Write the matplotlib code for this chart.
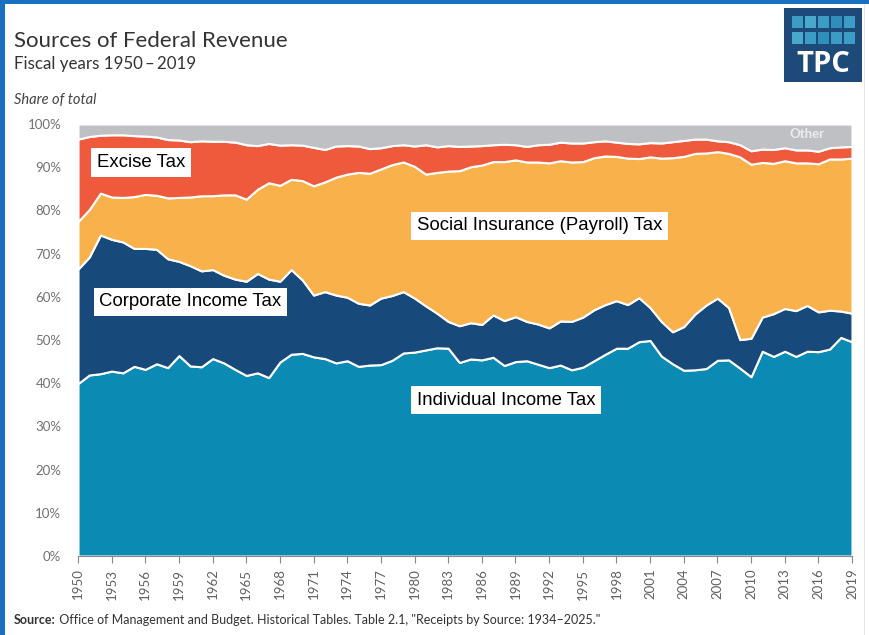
"""
Sources of Federal Revenue, fiscal years 1950-2019 (TPC chart)
"""
import numpy as np
import matplotlib
matplotlib.use('Agg')
import matplotlib.pyplot as plt
from matplotlib.patches import Rectangle

years = list(range(1950, 2020))

# share of total receipts, percent
individual = [39.9, 41.9, 42.2, 42.8, 42.4, 43.9, 43.2, 44.5, 43.6, 46.4,
              44.0, 43.8, 45.7, 44.7, 43.2, 41.8, 42.4, 41.3, 44.9, 46.7,
              46.9, 46.1, 45.7, 44.7, 45.2, 43.9, 44.2, 44.3, 45.3, 47.0,
              47.2, 47.7, 48.2, 48.1, 44.8, 45.6, 45.4, 46.0, 44.1, 45.0,
              45.2, 44.4, 43.6, 44.2, 43.1, 43.7, 45.2, 46.7, 48.1, 48.1,
              49.6, 49.9, 46.3, 44.5, 43.0, 43.1, 43.4, 45.3, 45.4, 43.5,
              41.5, 47.4, 46.2, 47.4, 46.2, 47.4, 47.3, 47.9, 50.6, 49.6]
corporate = [26.5, 27.3, 32.1, 30.5, 30.3, 27.3, 28.0, 26.5, 25.2, 21.8,
             23.2, 22.2, 20.6, 20.3, 20.9, 21.8, 23.0, 22.8, 18.7, 19.6,
             17.0, 14.3, 15.5, 15.7, 14.7, 14.6, 13.9, 15.4, 15.0, 14.2,
             12.5, 10.2, 8.0, 6.2, 8.5, 8.4, 8.2, 9.8, 10.4, 10.4,
             9.1, 9.3, 9.2, 10.2, 11.2, 11.6, 11.8, 11.5, 11.0, 10.1,
             10.2, 7.6, 8.0, 7.4, 10.1, 12.9, 14.7, 14.4, 12.1, 6.6,
             8.9, 7.9, 9.9, 9.9, 10.6, 10.6, 9.2, 9.0, 6.1, 6.6]
social = [11.0, 11.0, 9.7, 9.8, 10.3, 12.0, 12.5, 12.5, 14.1, 14.8,
          15.9, 17.4, 17.1, 18.6, 19.5, 19.0, 19.5, 22.3, 22.2, 20.9,
          23.0, 25.3, 25.4, 27.3, 28.5, 30.3, 30.5, 29.9, 30.3, 30.0,
          30.5, 30.5, 32.6, 34.8, 35.9, 36.1, 36.9, 35.5, 36.8, 36.3,
          36.9, 37.5, 38.2, 37.1, 36.9, 36.0, 35.2, 34.4, 33.4, 33.9,
          32.2, 34.9, 37.8, 40.3, 39.4, 37.2, 35.2, 33.9, 35.7, 42.3,
          40.3, 35.8, 34.8, 34.2, 34.2, 33.0, 34.3, 35.0, 35.2, 35.9]
excise = [19.1, 16.9, 13.4, 14.4, 14.5, 14.1, 13.5, 13.5, 13.5, 13.3,
          12.8, 12.7, 12.6, 12.4, 12.2, 12.6, 10.1, 9.1, 9.3, 8.0,
          8.2, 8.9, 7.5, 7.2, 6.6, 6.1, 5.7, 4.9, 4.4, 4.0,
          4.7, 6.8, 5.9, 5.9, 5.6, 4.8, 4.5, 3.9, 4.0, 3.5,
          3.6, 4.0, 4.3, 4.3, 4.4, 4.3, 3.7, 3.5, 3.3, 3.4,
          3.4, 3.3, 3.5, 3.7, 3.7, 3.3, 3.2, 2.5, 2.7, 2.8,
          3.1, 3.1, 3.2, 3.0, 3.0, 3.0, 2.9, 2.6, 2.8, 2.7]
other = list(100 - np.array(individual) - np.array(corporate)
             - np.array(social) - np.array(excise))

colors = ['#0b8bb4', '#17497b', '#f9b14b', '#ee5a3b', '#bfc0c4']
tick_years = years[::3]

fig = plt.figure(figsize=(8.69, 6.35), dpi=100)
ax = fig.add_axes([78/869, 1 - 556/635, 774/869, 432/635])

ax.stackplot(years, individual, corporate, social, excise, other,
             colors=colors, edgecolor='white', linewidth=1.5)

ax.set_xlim(1950, 2019)
ax.set_ylim(0, 100)
ax.set_yticks(range(0, 101, 10))
ax.set_yticklabels([f'{v}%' for v in range(0, 101, 10)], family='Lato')
ax.set_xticks(tick_years)
ax.set_xticklabels([str(y) for y in tick_years], rotation=90, family='Lato')
ax.tick_params(axis='y', length=0, pad=12, labelsize=9.5, labelcolor='#707070')
ax.tick_params(axis='x', length=5, width=0.8, color='#888888', pad=4,
               labelsize=9.5, labelcolor='#606060')
for s in ['left', 'right', 'top']:
    ax.spines[s].set_visible(False)
ax.spines['bottom'].set_color('#888888')

# series labels in white boxes
box = dict(facecolor='white', edgecolor='none', pad=4)
lab = dict(fontsize=13.4, family='Liberation Sans', color='black',
           va='center', ha='left', bbox=box)
ax.text(1951.7, 91.1, 'Excise Tax', **lab)
ax.text(1980.2, 76.4, 'Social Insurance (Payroll) Tax', **lab)
ax.text(1951.9, 58.8, 'Corporate Income Tax', **lab)
ax.text(1980.2, 36.1, 'Individual Income Tax', **lab)
ax.text(2015.0, 97.6, 'Other', fontsize=9.5, fontweight='bold', color='#ececee',
        va='center', ha='center', family='Lato')

# titles
fig.text(14/869, 1 - 41/635, 'Sources of Federal Revenue', fontsize=16,
         family='Lato', color='#333333', va='center')
fig.text(14/869, 1 - 64/635, 'Fiscal years 1950\u2009\u2013\u20092019', fontsize=12.2,
         family='Lato', color='#333333', va='center')
fig.text(14/869, 1 - 100/635, 'Share of total', fontsize=10.5, style='italic',
         family='Lato', color='#444444', va='center')
src = fig.text(14/869, 1 - 620/635, 'Source:', fontsize=9, fontweight='bold',
               family='Lato', color='#333333', va='center')
ax.annotate(' Office of Management and Budget. Historical Tables. Table 2.1, '
            '"Receipts by Source: 1934\u20132025."',
            xy=(1, 0.5), xycoords=src, va='center', ha='left',
            fontsize=9, family='Lato', color='#333333', annotation_clip=False)

# TPC logo
fig.patches.append(Rectangle((784/869, 1 - 82/635), 78/869, 74/635,
                             transform=fig.transFigure, facecolor='#1d4a78',
                             edgecolor='none'))
sq_cols = ['#3b9cc4', '#4aa8cc', '#3b9cc4', '#2f8fba', '#3b9cc4']
for i in range(5):
    for j in range(2):
        x0 = 792 + i * 13
        y0 = 16 + j * 16
        fig.patches.append(Rectangle((x0/869, 1 - (y0 + 12)/635), 11/869, 12/635,
                                     transform=fig.transFigure,
                                     facecolor=sq_cols[(i + j) % 5], edgecolor='none'))
fig.text(823/869, 1 - 64/635, 'TPC', fontsize=21, fontweight='bold',
         family='Open Sans', color='white', ha='center', va='center')

# frame
fig.patches.append(Rectangle((0, 0), 5/869, 1, transform=fig.transFigure,
                             facecolor='#1a6fc0', edgecolor='none'))
fig.patches.append(Rectangle((0, 1 - 4/635), 1, 4/635, transform=fig.transFigure,
                             facecolor='#1a6fc0', edgecolor='none'))
fig.patches.append(Rectangle((864/869, 0), 1/869, 1 - 4/635, transform=fig.transFigure,
                             facecolor='#e6e6e6', edgecolor='none'))

fig.savefig('out.png', dpi=100)
